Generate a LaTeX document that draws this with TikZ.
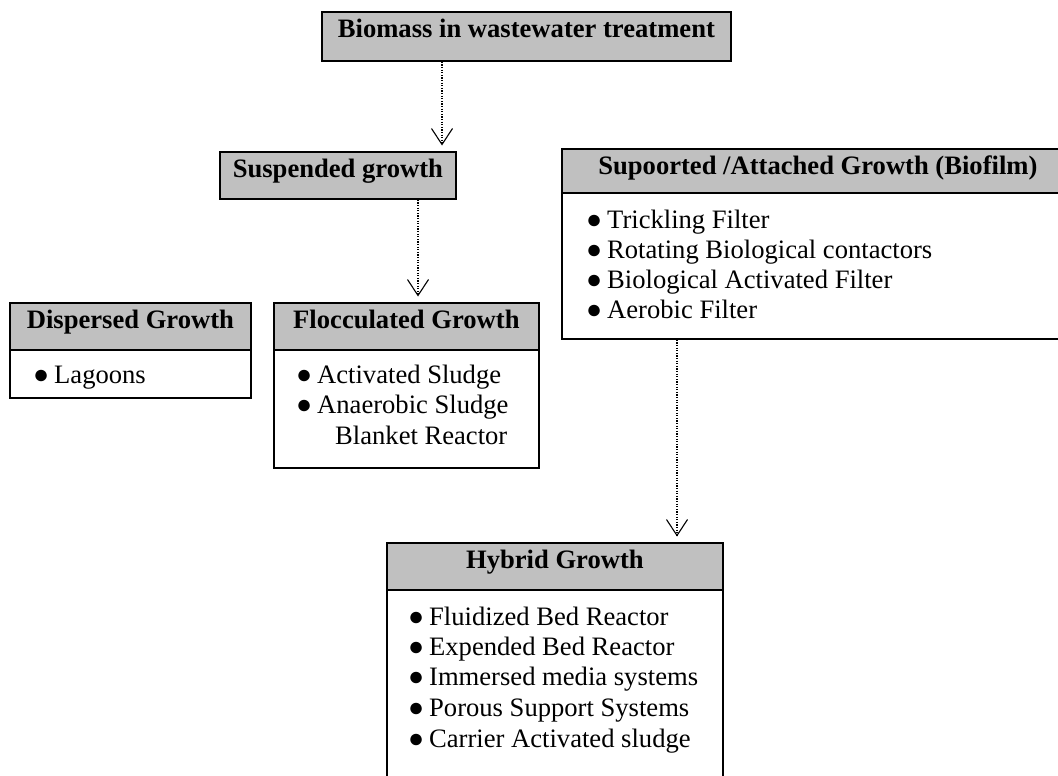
\documentclass[tikz,border=0pt]{standalone}
\usepackage{fontspec}
\setmainfont{Liberation Serif}
\usetikzlibrary{arrows.meta}
\definecolor{hdrgray}{RGB}{192,192,192}
\tikzset{
  hdr/.style={draw, fill=hdrgray, line width=1.8pt, inner sep=0pt, anchor=north west,
    font=\fontsize{26.6}{30.5}\selectfont\bfseries, text height=26pt},
  bodybox/.style={draw, fill=white, line width=1.8pt, inner sep=0pt, anchor=north west},
  item/.style={anchor=base west, inner sep=0pt, font=\fontsize{26.6}{30.5}\selectfont},
  conn/.style={line width=1.1pt, dash pattern=on 1.2pt off 1.4pt,
    -{Straight Barb[length=16pt,width=21pt,line width=1.1pt]}, shorten >=5.5pt}
}
\newcommand{\bul}[1]{\makebox[21pt][l]{●}#1}
\begin{document}
\begin{tikzpicture}[x=1pt,y=-1pt]
\useasboundingbox (0,0) rectangle (1058,776);
% headers and bodies
\node[hdr, minimum width=409pt, minimum height=49pt, text depth=23pt] (top) at (321,11) {Biomass in wastewater treatment};
\node[hdr, minimum width=236pt, minimum height=47pt, text depth=21pt] (sus) at (219,151) {Suspended growth};
\node[hdr, minimum width=241pt, minimum height=47pt, text depth=21pt] (dispH) at (9,302) {Dispersed Growth};
\node[bodybox, minimum width=241pt, minimum height=48pt] (dispB) at (9,349) {};
\node[hdr, minimum width=265pt, minimum height=47pt, text depth=21pt] (flocH) at (273,302) {Flocculated Growth};
\node[bodybox, minimum width=265pt, minimum height=118pt] (flocB) at (273,349) {};
\node[hdr, minimum width=512pt, minimum height=44pt, text depth=18pt] (supH) at (561,148) {Supoorted /Attached Growth (Biofilm)};
\node[bodybox, minimum width=512pt, minimum height=146pt] (supB) at (561,192) {};
\node[hdr, minimum width=336pt, minimum height=47pt, text depth=21pt] (hybH) at (386,542) {Hybrid Growth};
\node[bodybox, minimum width=336pt, minimum height=220pt] (hybB) at (386,589) {};
% items
\node[item] (d1) at (33,383) {\bul{Lagoons}};
\node[item] (f1) at (296,383) {\bul{Activated Sludge}};
\node[item] (f2) at (296,413) {\bul{Anaerobic Sludge}};
\node[item] (f3) at (335,444) {Blanket Reactor};
\node[item] (s1) at (586,228) {\bul{Trickling Filter}};
\node[item] (s2) at (586,258) {\bul{Rotating Biological contactors}};
\node[item] (s3) at (586,288) {\bul{Biological Activated Filter}};
\node[item] (s4) at (586,318) {\bul{Aerobic Filter}};
\node[item] (h1) at (408,625) {\bul{Fluidized Bed Reactor}};
\node[item] (h2) at (408,655) {\bul{Expended Bed Reactor}};
\node[item] (h3) at (408,685) {\bul{Immersed media systems}};
\node[item] (h4) at (408,716) {\bul{Porous Support Systems}};
\node[item] (h5) at (408,747) {\bul{Carrier Activated sludge}};
% connectors
\coordinate (x1) at (442,0);
\coordinate (x2) at (418,0);
\coordinate (x3) at (677,0);
\draw[conn] (top.south -| x1) -- (sus.north -| x1);
\draw[conn] (sus.south -| x2) -- (flocH.north -| x2);
\draw[conn] (supB.south -| x3) -- (hybH.north -| x3);
\end{tikzpicture}
\end{document}
